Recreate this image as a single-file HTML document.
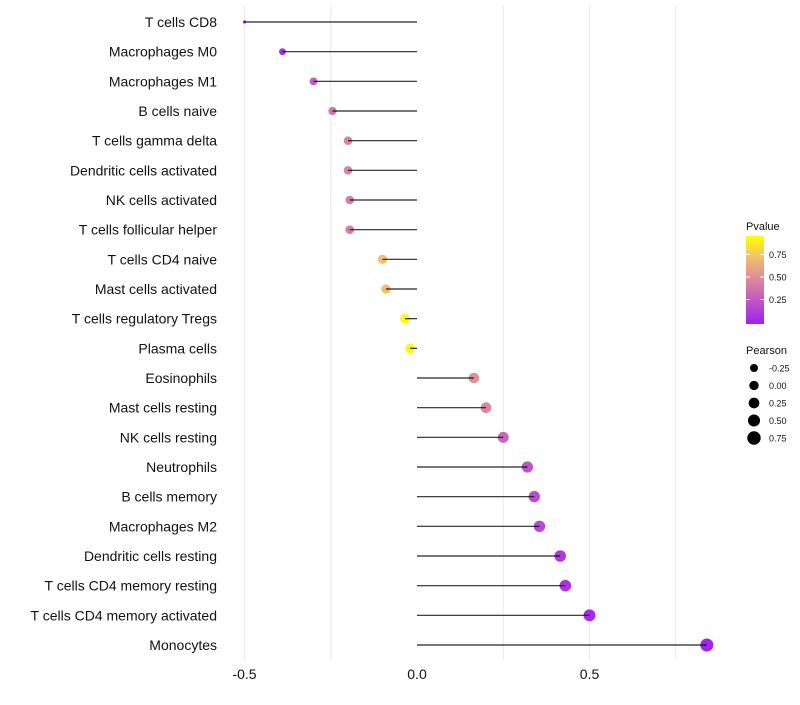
<!DOCTYPE html>
<html><head><meta charset="utf-8"><style>
body{margin:0;background:#fff;font-family:"Liberation Sans",sans-serif;}
svg text{font-family:"Liberation Sans",sans-serif;}
</style></head><body>
<svg id="chart" width="800" height="700" xmlns="http://www.w3.org/2000/svg">
<g id="grid"></g><g id="dots"></g><g id="marks"></g><g id="labels"></g><g id="legend"></g>
</svg>
<script>
const categories=["T cells CD8","Macrophages M0","Macrophages M1","B cells naive","T cells gamma delta","Dendritic cells activated","NK cells activated","T cells follicular helper","T cells CD4 naive","Mast cells activated","T cells regulatory  Tregs ","Plasma cells","Eosinophils","Mast cells resting","NK cells resting","Neutrophils","B cells memory","Macrophages M2","Dendritic cells resting","T cells CD4 memory resting","T cells CD4 memory activated","Monocytes"];
const pearson=[-0.50,-0.39,-0.30,-0.245,-0.20,-0.20,-0.195,-0.195,-0.10,-0.09,-0.035,-0.02,0.165,0.20,0.25,0.32,0.34,0.355,0.415,0.43,0.50,0.84];
const pvalue=[0.01,0.08,0.3,0.42,0.48,0.48,0.46,0.46,0.75,0.75,0.98,0.99,0.55,0.5,0.35,0.25,0.22,0.2,0.12,0.1,0.05,0.02];
const xTicks=[-0.5,0,0.5];
const xGrid=[-0.5,-0.25,0.25,0.5,0.75];
const pTicks=[0.25,0.5,0.75];
const sizeTicks=[-0.25,0,0.25,0.5,0.75];
const NS="http://www.w3.org/2000/svg";
const x=v=>417+v*345;
const y=i=>22+i*(623/21);
const r=v=>1.6+4.9*Math.pow(Math.max(0,v+0.5)/1.34,0.4);
const lr=v=>4+(v+0.25)*2.7;
function col(p){const s=[[0,[160,32,240]],[0.5,[218,135,160]],[0.75,[240,190,110]],[1,[255,255,0]]];
 let k=0;while(k<s.length-2&&p>s[k+1][0])k++;const a=s[k],b=s[k+1];
 const t=Math.min(1,Math.max(0,(p-a[0])/(b[0]-a[0])));const c=a[1].map((v,j)=>Math.round(v+(b[1][j]-v)*t));return `rgb(${c})`;}
function mk(tag,attrs,parent,txt){const e=document.createElementNS(NS,tag);for(const k in attrs)e.setAttribute(k,attrs[k]);if(txt!==undefined)e.textContent=txt;document.getElementById(parent).appendChild(e);return e;}
xGrid.forEach(v=>{const e=mk('line',{x1:x(v),x2:x(v),y1:5,y2:660,stroke:'#ebebeb','stroke-width':1},'grid');

});
xTicks.forEach(v=>{const e=mk('text',{x:x(v),y:679,'text-anchor':'middle','font-size':14,fill:'#111'},'labels',v===0?'0.0':String(v));

});
categories.forEach((c,i)=>{
 const t=mk('text',{x:217,y:y(i)+5,'text-anchor':'end','font-size':14,fill:'#111'},'labels',c);
 
 
 const d=mk('circle',{cx:x(pearson[i]),cy:y(i),r:r(pearson[i]),fill:col(pvalue[i])},'dots');
 
 
 const l=mk('line',{x1:x(0),x2:x(pearson[i]),y1:y(i),y2:y(i),stroke:'#000','stroke-opacity':0.85,'stroke-width':1.2},'marks');
 
 
});
const defs=mk('defs',{},'legend');
const g=document.createElementNS(NS,'linearGradient');g.setAttribute('id','pg');g.setAttribute('x1',0);g.setAttribute('y1',1);g.setAttribute('x2',0);g.setAttribute('y2',0);defs.appendChild(g);
[0,0.25,0.5,0.625,0.75,0.875,1].forEach(o=>{const s=document.createElementNS(NS,'stop');s.setAttribute('offset',o);s.setAttribute('stop-color',col(o));g.appendChild(s);});
let e=mk('text',{x:746,y:230,'font-size':11,fill:'#111'},'legend','Pvalue');


e=mk('rect',{x:746,y:236,width:18,height:88,fill:'url(#pg)'},'legend');


const py=p=>322-p*90;
pTicks.forEach(p=>{e=mk('text',{x:769,y:py(p)+3.5,'font-size':9,fill:'#111'},'legend',p.toFixed(2));


mk('line',{x1:746,x2:750,y1:py(p),y2:py(p),stroke:'#fff'},'legend');mk('line',{x1:760,x2:764,y1:py(p),y2:py(p),stroke:'#fff'},'legend');});
e=mk('text',{x:746,y:354,'font-size':11,fill:'#111'},'legend','Pearson');


sizeTicks.forEach((v,i)=>{const cy=368+i*17.5;
e=mk('circle',{cx:754,cy:cy,r:lr(v),fill:'#000'},'legend');


e=mk('text',{x:769,y:cy+3.5,'font-size':9,fill:'#111'},'legend',v.toFixed(2));

});
</script>
</body></html>
